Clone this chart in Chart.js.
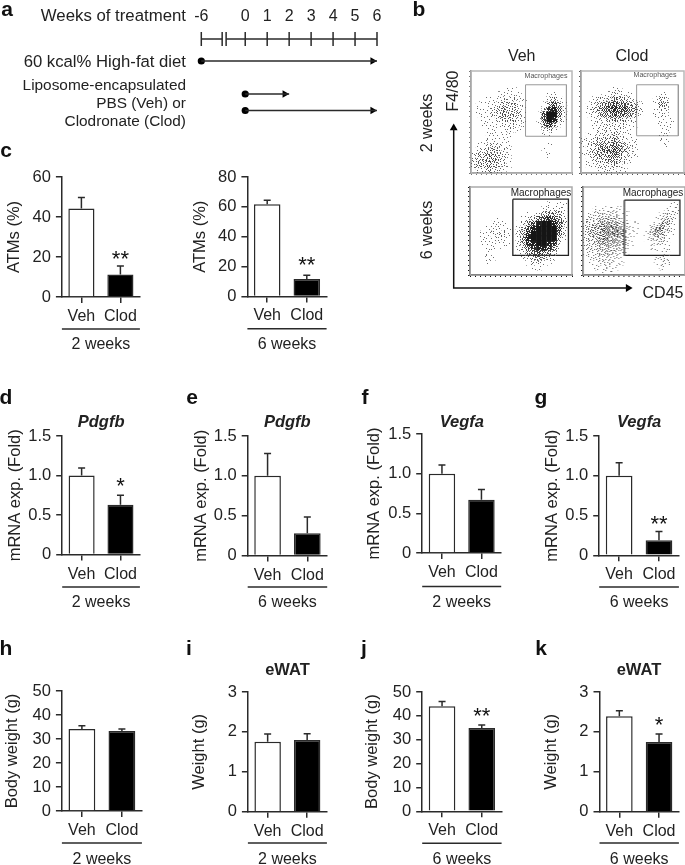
<!DOCTYPE html>
<html>
<head>
<meta charset="utf-8">
<title>Macrophage depletion</title>
<script src="https://cdn.jsdelivr.net/npm/chart.js@4"></script>
<style>
  html, body { margin: 0; background: #fff; }
  #page { position: relative; width: 685px; height: 865px; overflow: hidden; font-family: "Liberation Sans", Arial, sans-serif; color: #222; filter: blur(0.3px); }
  #page canvas { position: absolute; }
  .txt { position: absolute; white-space: nowrap; line-height: 1; }
</style>
</head>
<body>
<div id="page"></div>
<script>
// bar panels: values
const groups = ['Veh', 'Clod'];

const atms2wk = [44.3, 11.2];
const atms2wkErr = [5.5, 4.3];
const atms6wk = [61.7, 11.6];
const atms6wkErr = [2.7, 2.5];
const pdgfb2wk = [1.0, 0.63];
const pdgfb2wkErr = [0.095, 0.12];
const pdgfb6wk = [1.0, 0.28];
const pdgfb6wkErr = [0.28, 0.205];
const vegfa2wk = [1.0, 0.67];
const vegfa2wkErr = [0.11, 0.13];
const vegfa6wk = [1.0, 0.19];
const vegfa6wkErr = [0.165, 0.11];
const body2wk = [34.2, 33.3];
const body2wkErr = [1.3, 0.9];
const ewat2wk = [1.755, 1.797];
const ewat2wkErr = [0.195, 0.155];
const body6wk = [44.0, 34.9];
const body6wkErr = [2.0, 1.3];
const ewat6wk = [2.39, 1.746];
const ewat6wkErr = [0.14, 0.2];

// timeline (panel a). the axis is broken, so -6 sits two steps left of 0
const rulerEnds = [-2, 6];
const rulerBreak = [-1.05, -0.87];
const rulerTicks = [-2, 0, 1, 2, 3, 4, 5, 6];
const dietWeeks = [-2, 6];
const shortWeeks = [0, 2];
const longWeeks = [0, 6];
const rowRuler = 0, rowDiet = 1, rowShort = 2.5, rowLong = 3.25;

// flow plots (panel b): dot density per cell, 0 empty .. 9 black, read by eye
const veh2wkDensity = [
  '00000000000000000000',
  '00000000000000000000',
  '00000000000000000000',
  '00000001100000000000',
  '00000111110000011000',
  '00011122211000023100',
  '01111233321000146310',
  '01112343321000378520',
  '01112343331001699520',
  '00111233321001698310',
  '00111122221001574100',
  '00011112110000231000',
  '00011111000000110000',
  '00111111000000000000',
  '01122211000000010000',
  '12233321000000100000',
  '23344321000000010000',
  '23344321000000000000',
  '23343321000000000000',
  '12232210000000000000'
];
const clod2wkDensity = [
  '00000000000000000000',
  '00000000000000000000',
  '00000000000000000000',
  '00000011000000000000',
  '00001122110000011000',
  '00122344321000132000',
  '01234565543100143000',
  '01345676654200122000',
  '01234565543100121000',
  '00122343321000011100',
  '00112222211000011100',
  '00122222110000011100',
  '01122232110000011000',
  '11233343211000011000',
  '12344454321000001000',
  '12345565321000000000',
  '12344554321000000000',
  '01233443210000000000',
  '01122232100000000000',
  '00111211100000000000'
];
const veh6wkDensity = [
  '00000000000000000000',
  '00000000000000000000',
  '00000000000000000000',
  '00000000000000011110',
  '00000000000000122210',
  '00000000000112344310',
  '00000100001235676420',
  '00001110012468998530',
  '00011211013689999620',
  '00112221024799999520',
  '00111221025899999310',
  '00111111024789987200',
  '00011100013578875100',
  '00010000012456542000',
  '00011000001234321000',
  '00010000000122110000',
  '00000000000011000000',
  '00000000000000000000'
];
const clod6wkDensity = [
  '00000000000000000000',
  '00000000000000000000',
  '00000000000000000000',
  '00000000000000000110',
  '00111111000000001110',
  '01222221100000012210',
  '12233332100000123210',
  '23344443211001243100',
  '23445554211002452100',
  '23445554211013441100',
  '23345443210012321000',
  '22344443210001221000',
  '12333332100001111000',
  '12233322100000111000',
  '01222221000000121000',
  '01122211000000121000',
  '00112110000000010000',
  '00011100000000000000'
];
// gates in density-grid units [left, right, top, bottom]
const veh2wkGate = [10.8, 18.9, 2.7, 12.8];
const clod2wkGate = [10.8, 18.9, 2.7, 12.7];
const veh6wkGate = [8.4, 19.3, 2.5, 14];
const clod6wkGate = [8.1, 19, 2.7, 14];

const page = document.getElementById('page');
const ink = '#2a2a2a';

function label(text, x, y, css, anchor) {
  const d = document.createElement('div');
  d.className = 'txt';
  d.textContent = text;
  d.style.left = x + 'px';
  d.style.top = y + 'px';
  d.style.cssText += css || 'font-size:16px';
  d.style.transform = anchor || 'translate(-50%,-50%)';
  page.appendChild(d);
}
const rotated = 'translate(-50%,-50%) rotate(-90deg)';
const rightAligned = 'translate(-100%,-50%)';

function addCanvas(left, top, width, height) {
  const c = document.createElement('canvas');
  c.width = width;
  c.height = height;
  c.style.left = left + 'px';
  c.style.top = top + 'px';
  c.style.width = width + 'px';
  c.style.height = height + 'px';
  page.appendChild(c);
  return c;
}

// the chart area has to stay exactly where the layout puts it
function noScalePadding(s) {
  s.paddingLeft = 0;
  s.paddingRight = 0;
  s.paddingTop = 0;
  s.paddingBottom = 0;
}

// upper error bar, stars and the rule above the "n weeks" label
const barExtras = {
  id: 'barExtras',
  afterDatasetsDraw(chart, args, opts) {
    const ctx = chart.ctx;
    const y = chart.scales.y, x = chart.scales.x;
    const vals = chart.data.datasets[0].data;
    ctx.save();
    ctx.strokeStyle = ink;
    ctx.lineWidth = 1.5;
    vals.forEach((v, i) => {
      const px = x.getPixelForValue(i);
      const top = y.getPixelForValue(v + opts.err[i]);
      ctx.beginPath();
      ctx.moveTo(px, y.getPixelForValue(v));
      ctx.lineTo(px, top);
      ctx.moveTo(px - 3.5, top);
      ctx.lineTo(px + 3.5, top);
      ctx.stroke();
      if (opts.stars && i == 1) {
        ctx.fillStyle = '#111';
        ctx.font = '22px "Liberation Sans"';
        ctx.textAlign = 'center';
        ctx.fillText(opts.stars, px, top + opts.starDrop);
      }
    });
    ctx.beginPath();
    ctx.moveTo(chart.chartArea.left, opts.ruleY);
    ctx.lineTo(chart.chartArea.right, opts.ruleY);
    ctx.stroke();
    ctx.restore();
  }
};

function barPanel(p) {
  const canvasLeft = p.titleX - 9.9;
  const canvasTop = p.top - 12;
  const w = Math.ceil(p.right + 8 - canvasLeft);
  const weeksBottom = p.weeksY + 9.6;
  const h = Math.ceil(weeksBottom - canvasTop);
  const c = addCanvas(canvasLeft, canvasTop, w, h);
  new Chart(c, {
    type: 'bar',
    plugins: [barExtras],
    data: {
      labels: groups,
      datasets: [{
        data: p.values,
        backgroundColor: ['#ffffff', '#000000'],
        borderColor: ink,
        borderWidth: 1.5,
        barPercentage: 1,
        categoryPercentage: 0.67
      }]
    },
    options: {
      responsive: false,
      animation: false,
      layout: { autoPadding: false, padding: { top: 12, right: w - (p.right - canvasLeft), left: 0, bottom: 0 } },
      plugins: {
        legend: { display: false },
        tooltip: { enabled: false },
        barExtras: { err: p.err, stars: p.stars, starDrop: p.starDrop || 0, ruleY: p.ruleY - canvasTop }
      },
      scales: {
        x: {
          grid: { offset: false, drawOnChartArea: false, tickLength: 6, color: ink, lineWidth: 1.5 },
          border: { color: ink, width: 1.5 },
          ticks: { color: '#222', font: { family: 'Liberation Sans', size: 16 }, padding: 4, maxRotation: 0 },
          title: { display: true, text: p.weeks, color: '#222', font: { family: 'Liberation Sans', size: 16 }, padding: 0 },
          afterFit(s) { s.height = h - (p.zero - canvasTop); noScalePadding(s); }
        },
        y: {
          min: 0,
          max: p.max,
          grid: { drawOnChartArea: false, tickLength: 6, color: ink, lineWidth: 1.5 },
          border: { color: ink, width: 1.5 },
          ticks: {
            stepSize: p.step,
            padding: 5,
            color: '#222',
            font: { family: 'Liberation Sans', size: 16.5 },
            callback: v => (v === 0 ? '0' : (p.step < 1 ? v.toFixed(1) : v))
          },
          title: { display: true, text: p.yTitle, color: '#222', font: { family: 'Liberation Sans', size: 16.5 }, padding: 0 },
          afterFit(s) { s.width = p.axis - canvasLeft; noScalePadding(s); }
        }
      }
    }
  });
  if (p.head) label(p.head, (p.axis + p.right) / 2, p.headY, 'font-size:16.5px;font-weight:bold;' + (p.headItalic ? 'font-style:italic;' : ''));
}

const lettersFont = 'font-size:21px;font-weight:bold;color:#111';
[['a', 7, 8], ['b', 419, 8], ['c', 6, 149], ['d', 6, 396], ['e', 192, 396], ['f', 365, 396], ['g', 541, 396],
 ['h', 6, 647], ['i', 189, 647], ['j', 364, 647], ['k', 541, 647]].forEach(l => label(l[0], l[1], l[2], lettersFont));

// panel a
label('Weeks of treatment', 186, 16, 'font-size:16.8px', rightAligned);
label('60 kcal% High-fat diet', 186, 62, 'font-size:16.7px', rightAligned);
label('Liposome-encapsulated', 186, 85, 'font-size:15.4px', rightAligned);
label('PBS (Veh) or', 186, 103, 'font-size:15.4px', rightAligned);
label('Clodronate (Clod)', 186, 121, 'font-size:15.4px', rightAligned);

function flatLine(xs, row) {
  return xs.map(v => ({ x: v, y: row }));
}
function dots(xs, row) {
  return { data: [{ x: xs[0], y: row }], pointRadius: 3.6, pointStyle: 'circle', pointBackgroundColor: '#000', pointBorderWidth: 0, showLine: false, clip: false };
}
function arrowHead(xs, row) {
  // the triangle centre sits a little short of the arrow's end week
  return { data: [{ x: xs[1] - 0.2, y: row }], pointRadius: 4.4, pointStyle: 'triangle', rotation: 90, pointBackgroundColor: '#000', pointBorderWidth: 0, showLine: false, clip: false };
}
function stem(xs, row) {
  return { data: flatLine(xs, row), showLine: true, borderColor: ink, borderWidth: 1.5, pointRadius: 0, clip: false };
}
new Chart(addCanvas(180, 0, 210, 130), {
  type: 'scatter',
  data: {
    datasets: [
      stem([rulerEnds[0], rulerBreak[0]], rowRuler),
      stem([rulerBreak[1], rulerEnds[1]], rowRuler),
      { data: flatLine(rulerTicks.concat(rulerBreak), rowRuler), pointStyle: 'line', rotation: 90, pointRadius: 7, borderColor: ink, pointBorderColor: ink, pointBorderWidth: 1.5, showLine: false, clip: false },
      stem(dietWeeks, rowDiet), dots(dietWeeks, rowDiet), arrowHead(dietWeeks, rowDiet),
      stem(shortWeeks, rowShort), dots(shortWeeks, rowShort), arrowHead(shortWeeks, rowShort),
      stem(longWeeks, rowLong), dots(longWeeks, rowLong), arrowHead(longWeeks, rowLong)
    ]
  },
  options: {
    responsive: false,
    animation: false,
    layout: { autoPadding: false, padding: { left: 21.3, right: 13, bottom: 19.5, top: 0 } },
    plugins: { legend: { display: false }, tooltip: { enabled: false } },
    scales: {
      x: {
        type: 'linear',
        position: 'top',
        min: -2,
        max: 6,
        grid: { display: false, drawTicks: false },
        border: { display: false },
        ticks: {
          stepSize: 1,
          autoSkip: false,
          maxRotation: 0,
          padding: 13,
          color: '#222',
          font: { family: 'Liberation Sans', size: 16 },
          callback: v => (v === -2 ? '-6' : (v === -1 ? '' : v))
        },
        afterFit(s) { s.height = 39; noScalePadding(s); }
      },
      y: { display: false, reverse: true, min: 0, max: rowLong }
    }
  }
});

// panel b
label('Veh', 521.7, 55.7);
label('Clod', 632, 55.7);
label('F4/80', 453, 90.5, 'font-size:16px', rotated);
label('2 weeks', 427, 122.5, 'font-size:16px', rotated);
label('6 weeks', 427, 229.5, 'font-size:16px', rotated);
label('CD45', 663, 292.7);

new Chart(addCanvas(445, 115, 195, 180), {
  type: 'scatter',
  data: {
    datasets: [
      { data: [{ x: 0, y: 0.98 }, { x: 0, y: 0 }, { x: 0.98, y: 0 }], showLine: true, borderColor: '#111', borderWidth: 1.5, pointRadius: 0, clip: false },
      { data: [{ x: 0, y: 0.975 }], pointStyle: 'triangle', rotation: 0, pointRadius: 4.5, pointBackgroundColor: '#000', pointBorderWidth: 0, clip: false },
      { data: [{ x: 0.98, y: 0 }], pointStyle: 'triangle', rotation: 90, pointRadius: 4.5, pointBackgroundColor: '#000', pointBorderWidth: 0, clip: false }
    ]
  },
  options: {
    responsive: false,
    animation: false,
    layout: { autoPadding: false, padding: { left: 8.7, top: 9, right: 8.3, bottom: 7 } },
    plugins: { legend: { display: false }, tooltip: { enabled: false } },
    scales: { x: { display: false, min: 0, max: 1 }, y: { display: false, min: 0, max: 1 } }
  }
});

// speckle fills for the density cells: one pattern per density level, from a fixed threshold table
const speckleOrder = [
  [37, 11, 52, 3, 44, 19, 60, 28],
  [6, 57, 24, 41, 14, 33, 1, 49],
  [46, 17, 63, 8, 55, 26, 39, 12],
  [30, 2, 35, 21, 47, 5, 58, 22],
  [54, 42, 13, 59, 29, 36, 16, 43],
  [9, 25, 50, 0, 40, 10, 62, 31],
  [61, 34, 18, 45, 23, 53, 4, 48],
  [20, 7, 56, 32, 15, 38, 27, 51]
];
function speckle(level) {
  const t = document.createElement('canvas');
  t.width = 64;
  t.height = 64;
  const tctx = t.getContext('2d');
  const cover = Math.pow(level / 9, 1.25) * 64;
  const grey = 120 - level * 11;
  tctx.fillStyle = 'rgb(' + grey + ',' + grey + ',' + grey + ')';
  for (let r = 0; r < 64; r++) {
    for (let c = 0; c < 64; c++) {
      // each 8x8 block shifts the table by its own amount, so the repeat does not show
      const shift = 17 * speckleOrder[r >> 3][c >> 3];
      if ((speckleOrder[r % 8][c % 8] + shift) % 64 < cover) tctx.fillRect(c, r, 1, 1);
    }
  }
  return tctx.createPattern(t, 'repeat');
}
const speckles = [null, 1, 2, 3, 4, 5, 6, 7, 8, 9].map(l => (l ? speckle(l) : null));

// plot box outline behind the cells
const flowLook = {
  id: 'flowLook',
  beforeDatasetsDraw(chart, args, opts) {
    const a = chart.chartArea, ctx = chart.ctx;
    ctx.save();
    ctx.strokeStyle = opts.frame;
    ctx.lineWidth = 1.5;
    ctx.strokeRect(a.left, a.top, a.right - a.left, a.bottom - a.top);
    ctx.restore();
  }
};

function flowPlot(box, density, gate, style) {
  const pad = 4;
  const cols = density[0].length, rows = density.length;
  const cell = (box.right - box.left) / cols;
  const cells = [], fills = [];
  density.forEach((row, r) => {
    row.split('').forEach((d, c) => {
      if (d != '0') {
        cells.push({ x: c + 0.5, y: r + 0.5 });
        fills.push(speckles[+d]);
      }
    });
  });
  const tickCfg = {
    stepSize: 1, autoSkip: false, maxRotation: 0, padding: 0, font: { size: 1 }, callback: () => ''
  };
  const canvas = addCanvas(box.left - pad, box.top - pad, box.right - box.left + pad * 2, box.bottom - box.top + pad * 2);
  canvas.style.filter = 'blur(0.6px)';
  new Chart(canvas, {
    type: 'scatter',
    plugins: [flowLook],
    data: {
      datasets: [
        { data: cells, pointStyle: 'rect', pointRadius: cell / Math.SQRT2 + 0.3, pointBackgroundColor: fills, pointBorderWidth: 0, clip: false },
        {
          data: [{ x: gate[0], y: gate[2] }, { x: gate[1], y: gate[2] }, { x: gate[1], y: gate[3] }, { x: gate[0], y: gate[3] }, { x: gate[0], y: gate[2] }],
          showLine: true, borderColor: style.gate, borderWidth: style.gateWidth, pointRadius: 0
        }
      ]
    },
    options: {
      responsive: false,
      animation: false,
      layout: { autoPadding: false, padding: { top: pad, right: pad, left: 0, bottom: 0 } },
      plugins: { legend: { display: false }, tooltip: { enabled: false }, flowLook: { frame: style.frame } },
      scales: {
        x: {
          type: 'linear', min: 0, max: cols,
          grid: { drawOnChartArea: false, tickLength: 2, color: style.axis },
          border: { color: style.axis, width: 1.5 },
          ticks: tickCfg,
          afterFit(s) { s.height = pad; noScalePadding(s); }
        },
        y: {
          reverse: true, min: 0, max: rows,
          grid: { drawOnChartArea: false, tickLength: 2, color: style.axis },
          border: { color: style.axis, width: 1.5 },
          ticks: tickCfg,
          afterFit(s) { s.width = pad; noScalePadding(s); }
        }
      }
    }
  });
  label('Macrophages', style.textX, style.textY, 'font-size:' + style.textSize + 'px;color:' + style.textColor);
}

flowPlot({ left: 470.7, right: 571.7, top: 71, bottom: 173.3 }, veh2wkDensity, veh2wkGate,
  { frame: '#b8b8b8', axis: '#777', gate: '#999', gateWidth: 1, textX: 546, textY: 77, textSize: 7.1, textColor: '#555' });
flowPlot({ left: 580.7, right: 684.5, top: 71, bottom: 173.3 }, clod2wkDensity, clod2wkGate,
  { frame: '#b8b8b8', axis: '#555', gate: '#999', gateWidth: 1, textX: 655, textY: 76, textSize: 7.1, textColor: '#555' });
flowPlot({ left: 469.5, right: 571.7, top: 186.7, bottom: 275 }, veh6wkDensity, veh6wkGate,
  { frame: '#aaa', axis: '#111', gate: '#222', gateWidth: 1.3, textX: 541, textY: 192.7, textSize: 10, textColor: '#222' });
flowPlot({ left: 583, right: 684.5, top: 186.7, bottom: 275 }, clod6wkDensity, clod6wkGate,
  { frame: '#aaa', axis: '#111', gate: '#222', gateWidth: 1.3, textX: 653, textY: 192.7, textSize: 10, textColor: '#222' });

// panels c to k
barPanel({ titleX: 15, axis: 62, right: 140, top: 177, zero: 297, max: 60, step: 20, values: atms2wk, err: atms2wkErr, yTitle: 'ATMs (%)', weeks: '2 weeks', weeksY: 344, ruleY: 329, stars: '**', starDrop: -0.5 });
barPanel({ titleX: 201, axis: 247.5, right: 326.7, top: 177.3, zero: 296.7, max: 80, step: 20, values: atms6wk, err: atms6wkErr, yTitle: 'ATMs (%)', weeks: '6 weeks', weeksY: 344, ruleY: 329, stars: '**', starDrop: -3 });

const mrnaTitle = 'mRNA exp. (Fold)';
barPanel({ titleX: 16, axis: 62.3, right: 140, top: 435.7, zero: 554.3, max: 1.5, step: 0.5, values: pdgfb2wk, err: pdgfb2wkErr, yTitle: mrnaTitle, weeks: '2 weeks', weeksY: 602, ruleY: 586.7, stars: '*', starDrop: -2.5, head: 'Pdgfb', headItalic: true, headY: 421 });
barPanel({ titleX: 201.7, axis: 247.5, right: 327, top: 435.7, zero: 555.3, max: 1.5, step: 0.5, values: pdgfb6wk, err: pdgfb6wkErr, yTitle: mrnaTitle, weeks: '6 weeks', weeksY: 602, ruleY: 586.7, head: 'Pdgfb', headItalic: true, headY: 421 });
barPanel({ titleX: 375, axis: 422.3, right: 501.3, top: 434.3, zero: 553.3, max: 1.5, step: 0.5, values: vegfa2wk, err: vegfa2wkErr, yTitle: mrnaTitle, weeks: '2 weeks', weeksY: 602, ruleY: 586.7, head: 'Vegfa', headItalic: true, headY: 421 });
barPanel({ titleX: 553, axis: 599.3, right: 679, top: 435.7, zero: 555, max: 1.5, step: 0.5, values: vegfa6wk, err: vegfa6wkErr, yTitle: mrnaTitle, weeks: '6 weeks', weeksY: 602, ruleY: 586.7, stars: '**', starDrop: -0.5, head: 'Vegfa', headItalic: true, headY: 421 });

barPanel({ titleX: 12.7, axis: 61.7, right: 141.7, top: 691, zero: 811, max: 50, step: 10, values: body2wk, err: body2wkErr, yTitle: 'Body weight (g)', weeks: '2 weeks', weeksY: 858.7, ruleY: 843 });
barPanel({ titleX: 200, axis: 248, right: 327, top: 692, zero: 811.7, max: 3, step: 1, values: ewat2wk, err: ewat2wkErr, yTitle: 'Weight (g)', weeks: '2 weeks', weeksY: 858.7, ruleY: 843, head: 'eWAT', headY: 669 });
barPanel({ titleX: 373, axis: 422.3, right: 501.7, top: 691.7, zero: 811, max: 50, step: 10, values: body6wk, err: body6wkErr, yTitle: 'Body weight (g)', weeks: '6 weeks', weeksY: 858.7, ruleY: 843, stars: '**', starDrop: -2 });
barPanel({ titleX: 551.7, axis: 599.3, right: 678.7, top: 692, zero: 811.7, max: 3, step: 1, values: ewat6wk, err: ewat6wkErr, yTitle: 'Weight (g)', weeks: '6 weeks', weeksY: 858.7, ruleY: 843, stars: '*', starDrop: -2.5, head: 'eWAT', headY: 669 });
</script>
</body>
</html>
